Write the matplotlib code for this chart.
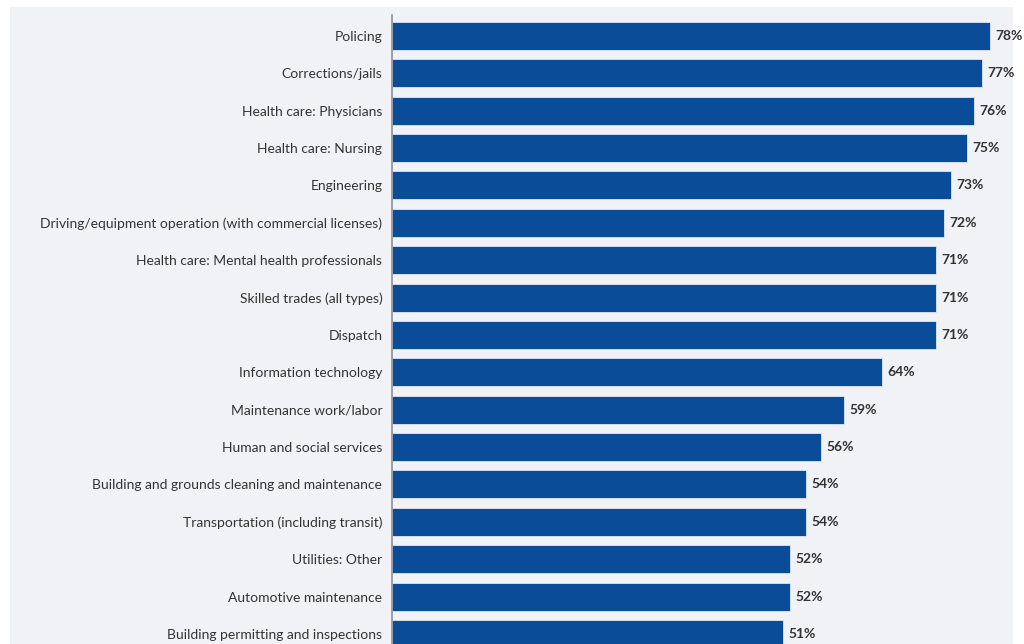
import matplotlib.pyplot as plt
from matplotlib.patches import Rectangle

categories = [
    "Policing",
    "Corrections/jails",
    "Health care: Physicians",
    "Health care: Nursing",
    "Engineering",
    "Driving/equipment operation (with commercial licenses)",
    "Health care: Mental health professionals",
    "Skilled trades (all types)",
    "Dispatch",
    "Information technology",
    "Maintenance work/labor",
    "Human and social services",
    "Building and grounds cleaning and maintenance",
    "Transportation (including transit)",
    "Utilities: Other",
    "Automotive maintenance",
    "Building permitting and inspections",
]
values = [78, 77, 76, 75, 73, 72, 71, 71, 71, 64, 59, 56, 54, 54, 52, 52, 51]

plt.rcParams["font.family"] = ["Lato", "DejaVu Sans"]

fig = plt.figure(figsize=(10.24, 6.44), dpi=100)
fig.patch.set_facecolor("white")
# light grey panel behind the chart
fig.patches.append(Rectangle((10 / 1024, 0), 1003 / 1024, 637 / 644,
                             transform=fig.transFigure, facecolor="#f1f2f5",
                             edgecolor="none", zorder=-10))

ax = fig.add_axes([392 / 1024, 0, 1 - 392 / 1024, (644 - 15) / 644])
ax.set_facecolor("none")

y = list(range(len(categories)))
ax.barh(y, values, height=0.75, color="#0a4c97", edgecolor="#dfe8f3", linewidth=0.6)

ax.set_xlim(0, 82.5)
ax.set_ylim(16.27, -0.56)

ax.set_yticks(y)
ax.set_yticklabels(categories, fontsize=10, color="#333333")
ax.tick_params(axis="y", length=0, pad=7)
ax.set_xticks([])

for s in ["top", "right", "bottom"]:
    ax.spines[s].set_visible(False)
ax.spines["left"].set_color("#8a8f99")
ax.spines["left"].set_linewidth(1.2)

for yi, v in zip(y, values):
    ax.text(v + 0.7, yi, f"{v}%", va="center", ha="left", fontsize=10,
            fontweight="bold", color="#333333", clip_on=False)

fig.savefig("out.png", dpi=100)
